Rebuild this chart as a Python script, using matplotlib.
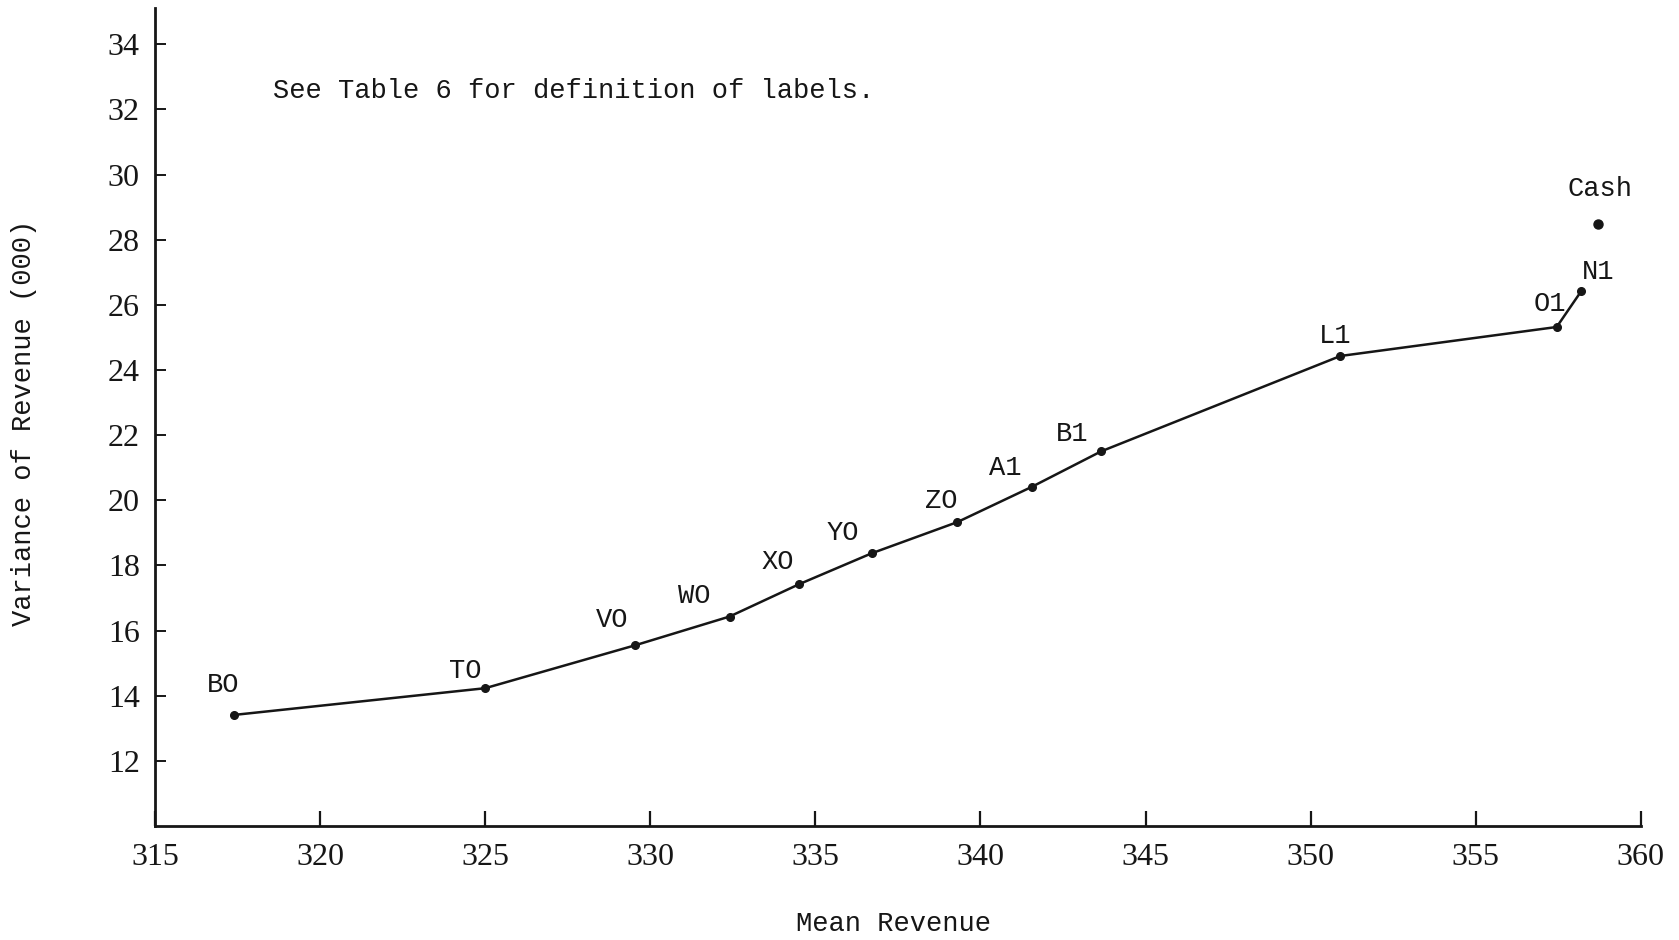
import matplotlib.pyplot as plt

# efficient frontier points (mean revenue, variance of revenue in thousands)
labels = ['BO', 'TO', 'VO', 'WO', 'XO', 'YO', 'ZO', 'A1', 'B1', 'L1', 'O1', 'N1']
mean_rev = [317.4, 325.0, 329.55, 332.4, 334.5, 336.7, 339.3, 341.55, 343.65, 350.9, 357.45, 358.2]
var_rev = [13.41, 14.23, 15.55, 16.43, 17.42, 18.37, 19.33, 20.41, 21.5, 24.43, 25.32, 26.43]

cash_mean = 358.7
cash_var = 28.47

x_ticks = [315, 320, 325, 330, 335, 340, 345, 350, 355, 360]
y_ticks = [12, 14, 16, 18, 20, 22, 24, 26, 28, 30, 32, 34]

# label offsets in pixels (dx, dy) relative to each point
offsets = [(-11, 30), (-20, 17), (-23, 25), (-35, 21), (-21, 22), (-29, 20),
           (-16, 21), (-26, 19), (-29, 17), (-5, 20), (-7, 23), (17, 19)]

ink = '#161616'
mono = 'Liberation Mono'
serif = 'Liberation Serif'
fs = 19.5

fig = plt.figure(figsize=(16.79, 9.40), dpi=100)
ax = fig.add_axes([0.0923, 0.1213, 0.885, 0.8697])

ax.plot(mean_rev, var_rev, color=ink, lw=1.8, marker='o', ms=5.5, mfc=ink, mec=ink)
ax.plot([cash_mean], [cash_var], 'o', color=ink, ms=6.5)

for lab, x, y, (dx, dy) in zip(labels, mean_rev, var_rev, offsets):
    ax.annotate(lab, (x, y), xytext=(dx, dy), textcoords='offset pixels',
                ha='center', va='center', fontsize=fs, family=mono, color=ink)
ax.annotate('Cash', (cash_mean, cash_var), xytext=(2, 35), textcoords='offset pixels',
            ha='center', va='center', fontsize=fs, family=mono, color=ink)

ax.set_xlim(315, 360)
ax.set_ylim(10, 35.1)
ax.set_xticks(x_ticks)
ax.set_yticks(y_ticks)
ax.set_xticklabels([str(t) for t in x_ticks], family=serif, fontsize=23, color=ink)
ax.set_yticklabels([str(t) for t in y_ticks], family=serif, fontsize=23, color=ink)

ax.tick_params(axis='x', direction='in', length=11, width=1.6, pad=12, color=ink)
ax.tick_params(axis='y', direction='in', length=8, width=1.4, pad=11, color=ink)

for s in ['top', 'right']:
    ax.spines[s].set_visible(False)
for s in ['left', 'bottom']:
    ax.spines[s].set_linewidth(2)
    ax.spines[s].set_color(ink)

fig.text(0.1626, 0.903, 'See Table 6 for definition of labels.',
         ha='left', va='center', fontsize=fs, family=mono, color=ink)
fig.text(0.532, 0.017, 'Mean Revenue', ha='center', va='center',
         fontsize=fs, family=mono, color=ink)
fig.text(0.0145, 0.55, 'Variance of Revenue (000)', ha='center', va='center',
         rotation=90, fontsize=fs, family=mono, color=ink)

fig.savefig('out.png', dpi=100, facecolor='white')
